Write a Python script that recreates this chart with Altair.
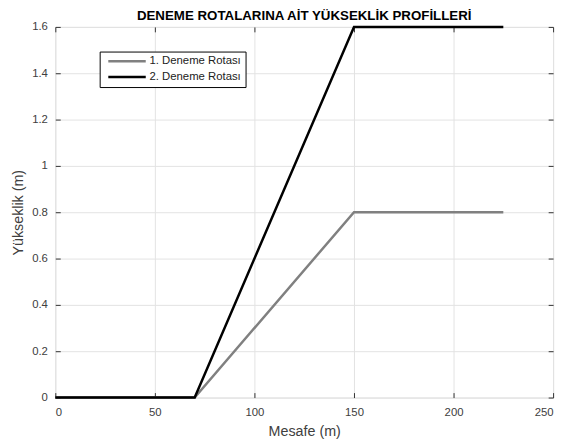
import altair as alt
import pandas as pd

# Data
mesafe = [0, 70, 150, 225]
rota1 = [0, 0, 0.8, 0.8]
rota2 = [0, 0, 1.6, 1.6]
series = ["1. Deneme Rotası", "2. Deneme Rotası"]
colors = ["#808080", "#000000"]
x_ticks = [0, 50, 100, 150, 200, 250]
y_ticks = [0, 0.2, 0.4, 0.6, 0.8, 1.0, 1.2, 1.4, 1.6]

rows = []
for name, ys in zip(series, [rota1, rota2]):
    for xv, yv in zip(mesafe, ys):
        rows.append({"Mesafe": xv, "Yukseklik": yv, "Rota": name})
df = pd.DataFrame(rows)

FONT = "Liberation Sans"
TXT = "#404040"
TICK = "#333333"

xscale = alt.Scale(domain=[0, 250], nice=False, zero=False)
yscale = alt.Scale(domain=[0, 1.6], nice=False, zero=False)

base = alt.Chart(df)

lines = base.mark_line(strokeWidth=2.5).encode(
    x=alt.X("Mesafe:Q", scale=xscale,
            axis=alt.Axis(values=x_ticks, orient="bottom", title="Mesafe (m)", format="d",
                          ticks=False, tickSize=0, domain=False, grid=True,
                          gridColor="#e3e3e3", labelPadding=9, titlePadding=7,
                          labelFont=FONT, labelFontSize=11.5, labelColor=TXT,
                          titleFont=FONT, titleFontSize=14.5, titleFontWeight="normal",
                          titleColor=TXT)),
    y=alt.Y("Yukseklik:Q", scale=yscale,
            axis=alt.Axis(values=y_ticks, orient="left", title="Yükseklik (m)", format="~g",
                          ticks=False, tickSize=0, domain=False, grid=True,
                          gridColor="#e3e3e3", labelPadding=8, titlePadding=6,
                          labelFont=FONT, labelFontSize=11.5, labelColor=TXT,
                          titleFont=FONT, titleFontSize=14.5, titleFontWeight="normal",
                          titleColor=TXT)),
    color=alt.Color("Rota:N", scale=alt.Scale(domain=series, range=colors),
                    legend=alt.Legend(title=None, orient="none", legendX=45, legendY=25,
                                      symbolType="M-1,0H37", symbolSize=4,
                                      symbolStrokeWidth=2.5, labelFont=FONT,
                                      labelFontSize=11.5, labelColor="#222222",
                                      labelOffset=35, rowPadding=3, padding=4,
                                      strokeColor="#000000", fillColor="#ffffff")),
)

ticks_bl = base.mark_point(opacity=0).encode(
    x=alt.X("Mesafe:Q", scale=xscale,
            axis=alt.Axis(values=x_ticks, orient="bottom", offset=-5, labels=False, domain=False,
                          grid=False, ticks=True, tickSize=5, tickColor=TICK, title=None)),
    y=alt.Y("Yukseklik:Q", scale=yscale,
            axis=alt.Axis(values=y_ticks, orient="left", offset=-5, labels=False, domain=False,
                          grid=False, ticks=True, tickSize=5, tickColor=TICK, title=None)),
)

ticks_tr = base.mark_point(opacity=0).encode(
    x=alt.X("Mesafe:Q", scale=xscale,
            axis=alt.Axis(values=x_ticks, orient="top", offset=-5, labels=False, domain=False,
                          grid=False, ticks=True, tickSize=5, tickColor=TICK, title=None)),
    y=alt.Y("Yukseklik:Q", scale=yscale,
            axis=alt.Axis(values=y_ticks, orient="right", offset=-5, labels=False, domain=False,
                          grid=False, ticks=True, tickSize=5, tickColor=TICK, title=None)),
)

chart = alt.layer(lines, ticks_bl, ticks_tr).resolve_axis(
    x="independent", y="independent"
).properties(
    width=505,
    height=376,
    autosize=alt.AutoSizeParams(type="none"),
    padding={"left": 48, "top": 16, "right": 7, "bottom": 48},
    title=alt.TitleParams(text="DENEME ROTALARINA AİT YÜKSEKLİK PROFİLLERİ",
                          font=FONT, fontSize=13.5, fontWeight="bold", color="#000000",
                          anchor="middle", offset=4, dy=5),
).configure_view(
    stroke="#333333", strokeWidth=1
).configure(background="#ffffff")

chart.save("out.html", embed_options={"renderer": "svg", "actions": False})
